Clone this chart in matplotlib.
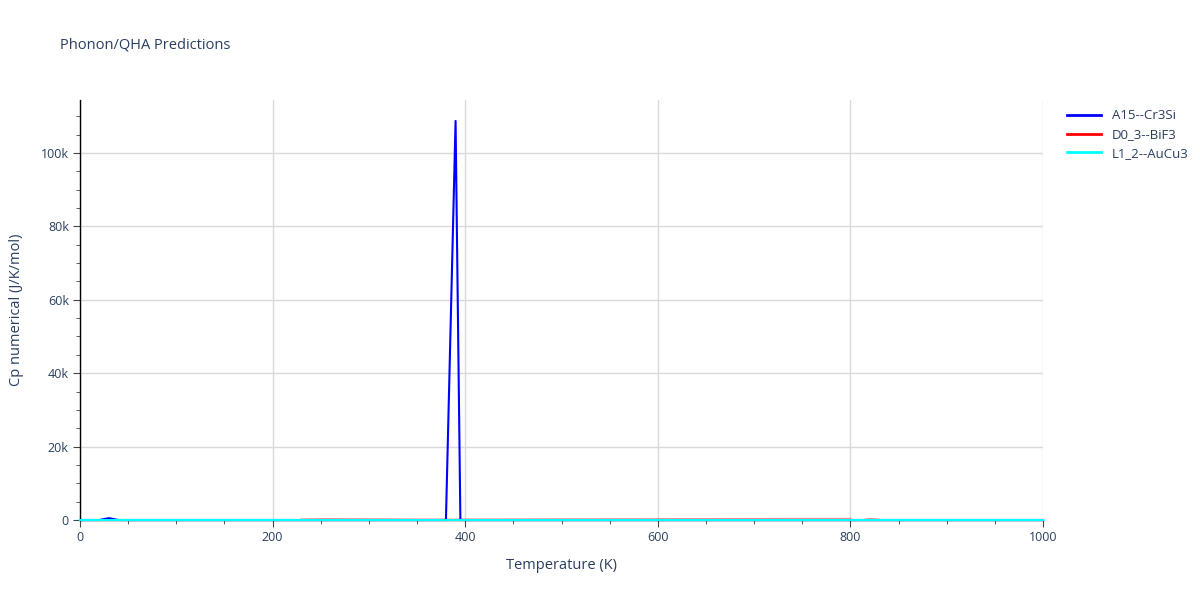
import numpy as np
import matplotlib.pyplot as plt
from matplotlib.ticker import MultipleLocator, FuncFormatter

# data
t_a15 = [0, 20, 30, 40, 380, 390, 395, 1000]
cp_a15 = [0, 0, 500, 0, 0, 108700, 0, 0]

t_d03 = [230, 250, 300, 350, 400, 500, 600, 700, 800, 805, 815, 820, 830]
cp_d03 = [150, 250, 200, 120, 120, 180, 230, 280, 300, np.nan, 100, 300, 100]

t_l12 = [0, 1000]
cp_l12 = [0, 0]

labels = ['A15--Cr3Si', 'D0_3--BiF3', 'L1_2--AuCu3']
colors = ['blue', 'red', 'cyan']

TXT = '#2a3f5f'
plt.rcParams['font.family'] = ['Open Sans', 'DejaVu Sans']

fig = plt.figure(figsize=(12, 6), dpi=100)
ax = fig.add_axes([80 / 1200, 80 / 600, 963 / 1200, 420 / 600])

ax.plot(t_a15, cp_a15, color=colors[0], lw=1.5, label=labels[0], zorder=3, clip_on=False)
ax.plot(t_d03, cp_d03, color=colors[1], lw=1.5, label=labels[1], zorder=2, alpha=0.45, clip_on=False)
ax.plot(t_l12, cp_l12, color=colors[2], lw=1.5, label=labels[2], zorder=4, clip_on=False)

ax.set_xlim(0, 1000)
ax.set_ylim(0, 114400)
ax.xaxis.set_major_locator(MultipleLocator(200))
ax.xaxis.set_minor_locator(MultipleLocator(50))
ax.yaxis.set_major_locator(MultipleLocator(20000))
ax.yaxis.set_minor_locator(MultipleLocator(5000))
ax.yaxis.set_major_formatter(FuncFormatter(lambda v, p: '0' if v == 0 else '%dk' % (v / 1000)))
ax.grid(True, which='major', color='#d9d9d9', lw=1)
ax.set_axisbelow(True)

for s in ['top', 'right']:
    ax.spines[s].set_visible(False)
for s in ['left', 'bottom']:
    ax.spines[s].set_color('black')
    ax.spines[s].set_linewidth(1)
    ax.spines[s].set_zorder(1)
ax.tick_params(which='major', length=5, color='#444444', labelcolor=TXT, labelsize=9, pad=3)
ax.tick_params(which='minor', length=3, color='#444444')

ax.set_xlabel('Temperature (K)', color=TXT, fontsize=10.5, labelpad=10)
ax.set_ylabel('Cp numerical (J/K/mol)', color=TXT, fontsize=10.5, labelpad=12)
fig.text(60 / 1200, 1 - 45 / 600, 'Phonon/QHA Predictions', color=TXT, fontsize=10.5, va='center')

leg = ax.legend(loc='upper left', bbox_to_anchor=(1.015, 1.0), frameon=False,
                fontsize=9.5, handlelength=2.6, labelspacing=0.45, borderaxespad=0.3)
for txt in leg.get_texts():
    txt.set_color(TXT)
for h in leg.legend_handles:
    h.set_alpha(1)
    h.set_linewidth(2)

fig.savefig('out.png', dpi=100)
